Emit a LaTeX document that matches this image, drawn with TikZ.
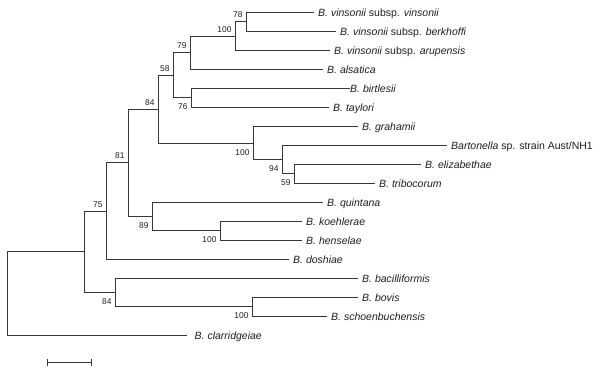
\documentclass[tikz,border=0pt]{standalone}
\usepackage{fontspec}
\usepackage{tikz}
\usetikzlibrary{arrows.meta}
\setmainfont{Liberation Sans}
\definecolor{treeLine}{RGB}{55, 55, 55}
\definecolor{treeText}{RGB}{30, 30, 30}

\begin{document}
\begin{tikzpicture}[
    x=1pt, y=-1pt,
    branch/.style={draw=treeLine, line width=1pt},
    taxon/.style={
        anchor=base west,
        inner sep=0pt,
        xshift=#1,
        yshift=-3.8pt,
        text=treeText,
        font=\fontsize{10.5}{12}\selectfont\itshape
    },
    taxon/.default=4.5pt,
    bsabove/.style={anchor=south east, inner sep=0pt, xshift=-3.8pt, yshift=3.4pt,
        text=treeText, font=\fontsize{8.4}{10}\selectfont},
    bsbelow/.style={anchor=north east, inner sep=0pt, xshift=-3.8pt, yshift=-6pt,
        text=treeText, font=\fontsize{8.4}{10}\selectfont}
]
    \useasboundingbox (0,0) rectangle (600,372);

    % Leaves
    \coordinate (l0) at (313.5, 12.5);
    \coordinate (l1) at (335.5, 31.5);
    \coordinate (l2) at (329.5, 50.5);
    \coordinate (l3) at (322.5, 69.5);
    \coordinate (l4) at (349.5, 88.5);
    \coordinate (l5) at (328.5, 107.5);
    \coordinate (l6) at (357.5, 126.5);
    \coordinate (l7) at (446.5, 145.5);
    \coordinate (l8) at (420.5, 164.5);
    \coordinate (l9) at (374.5, 183.5);
    \coordinate (l10) at (322.5, 202.5);
    \coordinate (l11) at (301.5, 221.5);
    \coordinate (l12) at (301.5, 240.5);
    \coordinate (l13) at (288.5, 259.5);
    \coordinate (l14) at (357.5, 278.5);
    \coordinate (l15) at (357.5, 297.5);
    \coordinate (l16) at (326.5, 316.5);
    \coordinate (l17) at (186.5, 335.5);

    \node[taxon] (vinsonii) at (l0) {B. vinsonii \upshape subsp. \itshape vinsonii};
    \node[taxon] (berkhoffi) at (l1) {B. vinsonii \upshape subsp. \itshape berkhoffi};
    \node[taxon] (arupensis) at (l2) {B. vinsonii \upshape subsp. \itshape arupensis};
    \node[taxon] (alsatica) at (l3) {B. alsatica};
    \node[taxon=0.5pt] (birtlesii) at (l4) {B. birtlesii};
    \node[taxon] (taylori) at (l5) {B. taylori};
    \node[taxon] (grahamii) at (l6) {B. grahamii};
    \node[taxon] (austnh) at (l7) {Bartonella \upshape sp. strain Aust/NH1};
    \node[taxon] (elizabethae) at (l8) {B. elizabethae};
    \node[taxon] (tribocorum) at (l9) {B. tribocorum};
    \node[taxon] (quintana) at (l10) {B. quintana};
    \node[taxon] (koehlerae) at (l11) {B. koehlerae};
    \node[taxon] (henselae) at (l12) {B. henselae};
    \node[taxon] (doshiae) at (l13) {B. doshiae};
    \node[taxon] (bacilliformis) at (l14) {B. bacilliformis};
    \node[taxon] (bovis) at (l15) {B. bovis};
    \node[taxon] (schoenbuchensis) at (l16) {B. schoenbuchensis};
    \node[taxon=8pt] (clarridgeiae) at (l17) {B. clarridgeiae};

    % Internal nodes
    \coordinate (nA) at (246.5, 21.5);
    \coordinate (nB) at (235.5, 36.5);
    \coordinate (nC) at (190.5, 52.5);
    \coordinate (nD) at (191.5, 97.5);
    \coordinate (nE) at (173.5, 75.5);
    \coordinate (nF) at (294.5, 173.5);
    \coordinate (nG) at (282.5, 159.5);
    \coordinate (nH) at (253.5, 143.5);
    \coordinate (nI) at (158.5, 109.5);
    \coordinate (nJ) at (220.5, 230.5);
    \coordinate (nK) at (152.5, 216.5);
    \coordinate (nM) at (128.5, 162.5);
    \coordinate (nN) at (106.5, 211.5);
    \coordinate (nP) at (252.5, 306.5);
    \coordinate (nQ) at (115.5, 292.5);
    \coordinate (nR) at (84.5, 251.5);
    \coordinate (root) at (7.5, 293.5);

    % Branches
    \draw[branch] (l0) -| (nA) |- (l1);
    \draw[branch] (nA) -| (nB) |- (l2);
    \draw[branch] (nB) -| (nC) |- (l3);
    \draw[branch] (l4) -| (nD) |- (l5);
    \draw[branch] (nC) -| (nE) |- (nD);
    \draw[branch] (l8) -| (nF) |- (l9);
    \draw[branch] (l7) -| (nG) |- (nF);
    \draw[branch] (l6) -| (nH) |- (nG);
    \draw[branch] (nE) -| (nI) |- (nH);
    \draw[branch] (l11) -| (nJ) |- (l12);
    \draw[branch] (l10) -| (nK) |- (nJ);
    \draw[branch] (nI) -| (nM) |- (nK);
    \draw[branch] (nM) -| (nN) |- (l13);
    \draw[branch] (l15) -| (nP) |- (l16);
    \draw[branch] (l14) -| (nQ) |- (nP);
    \draw[branch] (nN) -| (nR) |- (nQ);
    \draw[branch] (nR) -| (root) |- (l17);

    % Bootstrap values
    \node[bsabove] (bsA) at (nA) {78};
    \node[bsabove] (bsB) at (nB) {100};
    \node[bsabove] (bsC) at (nC) {79};
    \node[bsbelow] (bsD) at (nD) {76};
    \node[bsabove] (bsE) at (nE) {58};
    \node[bsbelow] (bsF) at (nF) {59};
    \node[bsbelow] (bsG) at (nG) {94};
    \node[bsbelow] (bsH) at (nH) {100};
    \node[bsabove] (bsI) at (nI) {84};
    \node[bsbelow] (bsJ) at (nJ) {100};
    \node[bsbelow] (bsK) at (nK) {89};
    \node[bsabove] (bsM) at (nM) {81};
    \node[bsabove] (bsN) at (nN) {75};
    \node[bsbelow] (bsP) at (nP) {100};
    \node[bsbelow] (bsQ) at (nQ) {84};

    % Scale bar
    \coordinate (scaleL) at (46.5, 362.5);
    \coordinate (scaleR) at (91.5, 362.5);
    \draw[branch, {Bar[width=7pt]}-{Bar[width=7pt]}] (scaleL) -- (scaleR);

\end{tikzpicture}
\end{document}
